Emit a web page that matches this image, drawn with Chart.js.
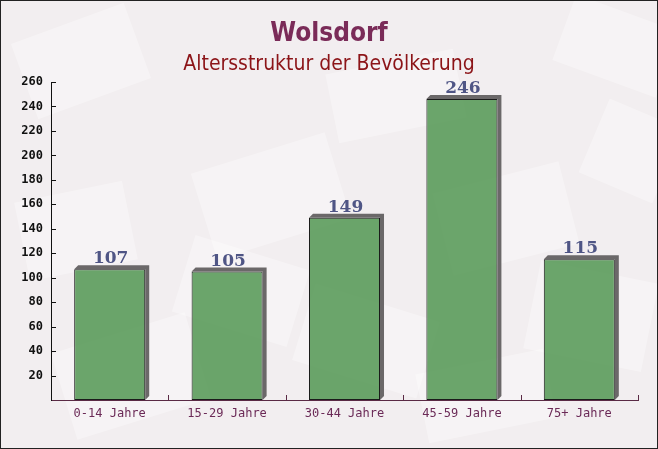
<!DOCTYPE html>
<html>
<head>
<meta charset="utf-8">
<script src="https://cdn.jsdelivr.net/npm/chart.js@4/dist/chart.umd.min.js"></script>
<style>
  html, body { margin: 0; padding: 0; background: #f3eff1; }
  #wrap { position: relative; width: 658px; height: 449px; box-sizing: border-box; border: 1px solid #222; background: #f2eef0; }
  canvas { display: block; }
</style>
</head>
<body>
<div id="wrap"><canvas id="chart" width="656" height="447"></canvas></div>
<script>
"use strict";

// Chart data
var titleText = 'Wolsdorf';
var subtitleText = 'Altersstruktur der Bevölkerung';
var categories = ['0-14 Jahre', '15-29 Jahre', '30-44 Jahre', '45-59 Jahre', '75+ Jahre'];
var values = [107, 105, 149, 246, 115];
var yMax = 260;
var yStep = 10;

// Colors
var barColor = 'rgba(96, 158, 96, 0.93)';
var shadowColor = '#6b6869';
var labelColor = '#4f5585';
var xLabelColor = '#6b2a57';

// faint paper/envelope patches in the background: [x, y, w, h, angle]
var patches = [
    [20, 20, 120, 80, -0.35], [200, 150, 140, 90, -0.3], [440, 175, 130, 85, -0.25],
    [560, 10, 110, 70, 0.35], [330, 60, 130, 70, -0.2], [180, 250, 120, 80, 0.3],
    [20, 190, 110, 80, -0.2], [530, 270, 120, 90, 0.2], [60, 330, 140, 90, -0.3],
    [300, 300, 130, 80, 0.3], [590, 110, 80, 80, 0.4], [420, 360, 130, 70, -0.2]
];

var backgroundPlugin = {
    id: 'paperBg',
    beforeDraw: function (chart) {
        var ctx = chart.ctx;
        ctx.save();
        ctx.fillStyle = 'rgba(255, 255, 255, 0.32)';
        patches.forEach(function (p) {
            ctx.save();
            ctx.translate(p[0] + p[2] / 2, p[1] + p[3] / 2);
            ctx.rotate(p[4]);
            ctx.fillRect(-p[2] / 2, -p[3] / 2, p[2], p[3]);
            ctx.restore();
        });
        ctx.restore();
    }
};

// Title + subtitle drawn at fixed places above the plot
var titlePlugin = {
    id: 'titles',
    afterDraw: function (chart) {
        var ctx = chart.ctx;
        var cx = chart.width / 2;
        ctx.save();
        ctx.textAlign = 'center';
        ctx.textBaseline = 'alphabetic';
        ctx.fillStyle = '#7a2b58';
        ctx.font = 'bold 26px "DejaVu Sans Condensed", "DejaVu Sans"';
        ctx.fillText(titleText, cx, 40);
        ctx.fillStyle = '#8c1418';
        ctx.font = '21px "DejaVu Sans Condensed", "DejaVu Sans"';
        ctx.fillText(subtitleText, cx, 69);
        ctx.restore();
    }
};

// 3D shadow behind bars, value labels above
var barDecor = {
    id: 'barDecor',
    beforeDatasetsDraw: function (chart) {
        var ctx = chart.ctx;
        var meta = chart.getDatasetMeta(0);
        var d = 4;
        ctx.save();
        ctx.fillStyle = shadowColor;
        meta.data.forEach(function (bar) {
            var left = bar.x - bar.width / 2;
            var right = bar.x + bar.width / 2;
            ctx.beginPath();
            ctx.moveTo(left, bar.y);
            ctx.lineTo(left + d, bar.y - d);
            ctx.lineTo(right + d, bar.y - d);
            ctx.lineTo(right + d, bar.base - d);
            ctx.lineTo(right, bar.base);
            ctx.lineTo(right, bar.y);
            ctx.closePath();
            ctx.fill();
        });
        ctx.restore();
    },
    afterDatasetsDraw: function (chart) {
        var ctx = chart.ctx;
        var meta = chart.getDatasetMeta(0);
        ctx.save();
        ctx.textAlign = 'center';
        ctx.textBaseline = 'alphabetic';
        ctx.fillStyle = labelColor;
        ctx.font = 'bold 17px "DejaVu Serif"';
        meta.data.forEach(function (bar, i) {
            ctx.fillText(String(values[i]), bar.x + 1, bar.y - 6);
        });
        ctx.restore();
    }
};

// Axis ticks pointing into the plot
var axisTicks = {
    id: 'axisTicks',
    afterDraw: function (chart) {
        var ctx = chart.ctx;
        var area = chart.chartArea;
        var ys = chart.scales.y;
        var xs = chart.scales.x;
        ctx.save();
        ctx.lineWidth = 1;
        ctx.strokeStyle = '#111';
        ys.ticks.forEach(function (t) {
            if (t.value === 0) return;
            var py = Math.round(ys.getPixelForValue(t.value)) + 0.5;
            var len = (t.value % 20 === 0) ? 5 : 3;
            ctx.beginPath();
            ctx.moveTo(area.left, py);
            ctx.lineTo(area.left + len, py);
            ctx.stroke();
        });
        ctx.strokeStyle = '#5a2a45';
        for (var i = 1; i <= categories.length; i++) {
            var px = Math.round(xs.getPixelForValue(i - 0.5)) + 0.5;
            ctx.beginPath();
            ctx.moveTo(px, area.bottom);
            ctx.lineTo(px, area.bottom - 5);
            ctx.stroke();
        }
        ctx.restore();
    }
};

var ctx = document.getElementById('chart').getContext('2d');
var chart = new Chart(ctx, {
    type: 'bar',
    data: {
        labels: categories,
        datasets: [{
            data: values,
            backgroundColor: barColor,
            borderColor: '#1b1b1b',
            borderWidth: 1,
            borderSkipped: false,
            categoryPercentage: 1,
            barPercentage: 0.605
        }]
    },
    options: {
        responsive: false,
        animation: false,
        layout: {
            padding: { top: 81, right: 19, left: 0, bottom: 0 }
        },
        plugins: {
            legend: { display: false },
            title: { display: false },
            tooltip: { enabled: false }
        },
        scales: {
            x: {
                grid: { display: false, drawTicks: false },
                border: { color: '#5a2a45', width: 1 },
                ticks: {
                    color: xLabelColor,
                    font: { family: '"DejaVu Sans Mono"', size: 12 },
                    padding: 7,
                    maxRotation: 0
                },
                afterFit: function (scale) { scale.height = 48; }
            },
            y: {
                min: 0,
                max: yMax,
                grid: { display: false, drawTicks: false },
                border: { color: '#111', width: 1 },
                ticks: {
                    stepSize: yStep,
                    color: '#111',
                    font: { family: '"DejaVu Sans Mono"', size: 12, weight: 'bold' },
                    padding: 8,
                    callback: function (v) {
                        return (v % 20 === 0 && v > 0) ? v : '';
                    }
                },
                afterFit: function (scale) { scale.width = 50; }
            }
        }
    },
    plugins: [backgroundPlugin, titlePlugin, barDecor, axisTicks]
});
</script>
</body>
</html>
